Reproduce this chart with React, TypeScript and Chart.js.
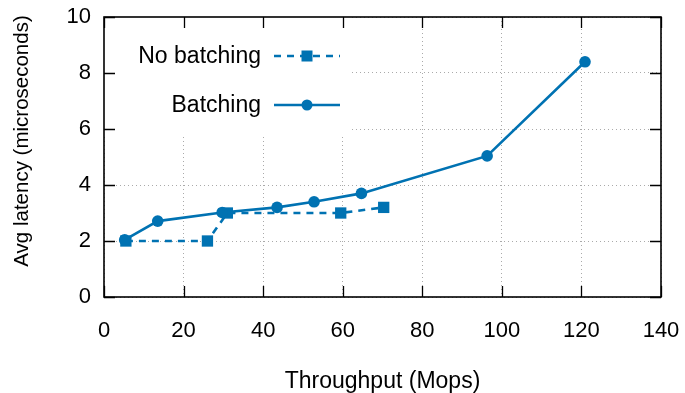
import React, { useEffect, useRef } from "react";
import { Chart, registerables } from "chart.js";

Chart.register(...registerables);

const noBatchX = [5.5, 26, 31, 59.5, 70.3];
const noBatchY = [2.0, 2.0, 3.0, 3.0, 3.2];
const batchX = [5.2, 13.5, 29.7, 43.5, 52.8, 64.7, 96.3, 120.9];
const batchY = [2.04, 2.71, 3.02, 3.2, 3.4, 3.7, 5.04, 8.4];
const legendLabels = ["No batching", "Batching"];
const xTitle = "Throughput (Mops)";
const yTitle = "Avg latency (microseconds)";

const BLUE = "#0072b2";
const FONT = "'Liberation Sans', Arial, sans-serif";

const frame = {
  id: "frame",
  beforeDatasetsDraw(chart: any) {
    const { ctx, chartArea: a } = chart;
    ctx.save();
    ctx.fillStyle = "#fff";
    ctx.fillRect(a.left, a.top, 352 - a.left, 134 - a.top);
    ctx.restore();
  },
  afterDraw(chart: any) {
    const { ctx, chartArea: a, scales } = chart;
    ctx.save();
    ctx.strokeStyle = "#000";
    ctx.lineWidth = 1.3;
    const L = 11;
    ctx.beginPath();
    scales.y.ticks.forEach((t: any) => {
      const y = Math.round(scales.y.getPixelForValue(t.value)) + 0.5;
      ctx.moveTo(a.left, y);
      ctx.lineTo(a.left + L, y);
      ctx.moveTo(a.right, y);
      ctx.lineTo(a.right - L, y);
    });
    scales.x.ticks.forEach((t: any) => {
      const x = Math.round(scales.x.getPixelForValue(t.value)) + 0.5;
      ctx.moveTo(x, a.bottom);
      ctx.lineTo(x, a.bottom - L);
      ctx.moveTo(x, a.top);
      ctx.lineTo(x, a.top + L);
    });
    ctx.stroke();
    ctx.lineWidth = 1.6;
    ctx.strokeRect(a.left, a.top, a.right - a.left, a.bottom - a.top);

    // y axis title
    ctx.save();
    ctx.translate(22, 141);
    ctx.rotate(-Math.PI / 2);
    ctx.font = `20.5px ${FONT}`;
    ctx.fillStyle = "#000";
    ctx.textAlign = "center";
    ctx.textBaseline = "middle";
    ctx.fillText(yTitle, 0, 0);
    ctx.restore();

    // legend
    ctx.font = `23px ${FONT}`;
    ctx.fillStyle = "#000";
    ctx.textAlign = "right";
    ctx.textBaseline = "middle";
    const rows = [56, 105];
    legendLabels.forEach((lab, i) => {
      const y = rows[i];
      ctx.fillText(lab, 261, y + 1);
      ctx.strokeStyle = BLUE;
      ctx.fillStyle = BLUE;
      ctx.lineWidth = 2.4;
      ctx.setLineDash(i === 0 ? [7, 6] : []);
      ctx.beginPath();
      ctx.moveTo(274, y);
      ctx.lineTo(340, y);
      ctx.stroke();
      ctx.setLineDash([]);
      if (i === 0) {
        ctx.fillRect(307 - 5.5, y - 5.5, 11, 11);
      } else {
        ctx.beginPath();
        ctx.arc(307, y, 5.5, 0, Math.PI * 2);
        ctx.fill();
      }
      ctx.fillStyle = "#000";
    });
    ctx.restore();
  },
};

export default function App() {
  const ref = useRef<HTMLCanvasElement>(null);
  useEffect(() => {
    const chart = new Chart(ref.current!, {
      type: "scatter",
      data: {
        datasets: [
          {
            label: legendLabels[1],
            data: batchX.map((x, i) => ({ x, y: batchY[i] })),
            showLine: true,
            borderColor: BLUE,
            backgroundColor: BLUE,
            borderWidth: 2.6,
            pointStyle: "circle",
            pointRadius: 5.8,
            pointBorderWidth: 0,
            order: 0,
          },
          {
            label: legendLabels[0],
            data: noBatchX.map((x, i) => ({ x, y: noBatchY[i] })),
            showLine: true,
            borderColor: BLUE,
            backgroundColor: BLUE,
            borderWidth: 2.6,
            borderDash: [7, 6],
            pointStyle: "rect",
            pointRadius: 8,
            pointBorderWidth: 0,
            order: 1,
          },
        ],
      },
      options: {
        animation: false,
        responsive: false,
        layout: { padding: { left: 0, right: 24, top: 17, bottom: 0 } },
        plugins: { legend: { display: false }, tooltip: { enabled: false } },
        scales: {
          x: {
            type: "linear",
            min: 0,
            max: 140,
            ticks: { stepSize: 20, color: "#000", font: { family: FONT, size: 22 }, padding: 21, maxRotation: 0 },
            grid: { color: "#aaa", lineWidth: 1, drawTicks: false },
            border: { display: false, dash: [1, 3] },
            title: { display: true, text: xTitle, color: "#000", font: { family: FONT, size: 23, lineHeight: 1 }, padding: { top: 0, bottom: 0 } },
            afterFit: (s: any) => { s.height = 96; s.paddingLeft = 0; s.paddingRight = 0; },
          },
          y: {
            type: "linear",
            min: 0,
            max: 10,
            ticks: { stepSize: 2, color: "#000", font: { family: FONT, size: 22 }, padding: 13 },
            grid: { color: "#aaa", lineWidth: 1, drawTicks: false },
            border: { display: false, dash: [1, 3] },
            title: { display: false, text: yTitle },
            afterFit: (s: any) => { s.width = 104; s.paddingTop = 0; s.paddingBottom = 0; },
          },
        },
      },
      plugins: [frame],
    });
    return () => chart.destroy();
  }, []);
  return (
    <div style={{ position: "absolute", left: 0, top: 0, width: 685, height: 393, background: "#fff" }}>
      <canvas ref={ref} width={685} height={393} />
    </div>
  );
}
